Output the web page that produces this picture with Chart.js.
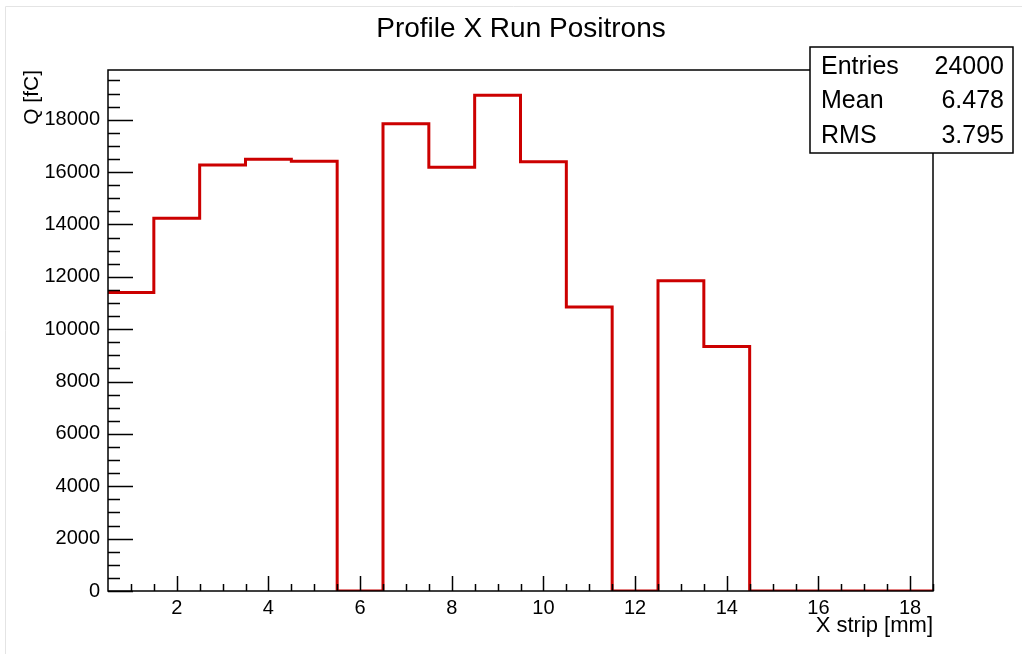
<!DOCTYPE html>
<html>
<head>
<meta charset="utf-8">
<script src="https://cdn.jsdelivr.net/npm/chart.js@4"></script>
<style>
  body { margin: 0; background: #fff; }
  #wrap { position: relative; width: 1022px; height: 654px; }
</style>
</head>
<body>
<div id="wrap"><canvas id="grafica" width="1022" height="654"></canvas></div>
<script>
// bin centres (strip number) and charge per bin
var bins = [1, 2, 3, 4, 5, 6, 7, 8, 9, 10, 11, 12, 13, 14, 15, 16, 17, 18];
var carga = [11400, 14240, 16270, 16490, 16410, 0, 17850, 16190, 18940, 16400, 10850, 0, 11850, 9340, 0, 0, 0, 0];
var xTicks = [2, 4, 6, 8, 10, 12, 14, 16, 18];
var yTicks = [0, 2000, 4000, 6000, 8000, 10000, 12000, 14000, 16000, 18000];
var stats = [["Entries", "24000"], ["Mean", "6.478"], ["RMS", "3.795"]];

// step outline: one point at each bin's low edge, plus the last high edge
var puntos = [];
for (var i = 0; i < bins.length; i++) {
    puntos.push({ x: bins[i] - 0.5, y: carga[i] });
}
puntos.push({ x: bins[bins.length - 1] + 0.5, y: carga[carga.length - 1] });

var fuente = "'Liberation Sans', Arial, sans-serif";

// ROOT-like frame, inward ticks, titles and stats box
var marco = {
    id: "marco",
    afterDatasetsDraw: function (chart) {
        var c = chart.ctx;
        var a = chart.chartArea;
        var sx = chart.scales.x, sy = chart.scales.y;
        c.save();

        // faint canvas edge
        c.strokeStyle = "#e4e4e4";
        c.lineWidth = 1;
        c.beginPath();
        c.moveTo(5.5, 654);
        c.lineTo(5.5, 6.5);
        c.lineTo(1022, 6.5);
        c.stroke();

        c.strokeStyle = "#000";
        c.lineWidth = 1.5;
        c.strokeRect(a.left, a.top, a.right - a.left, a.bottom - a.top);

        c.beginPath();
        for (var v = 0; v <= sy.max; v += 500) {
            var py = Math.round(sy.getPixelForValue(v)) + 0.5;
            var len = (v % 2000 === 0) ? 25 : 12;
            c.moveTo(a.left, py);
            c.lineTo(a.left + len, py);
        }
        for (var xv = 1; xv <= sx.max; xv += 0.5) {
            var px = Math.round(sx.getPixelForValue(xv)) + 0.5;
            var l = (xv % 2 === 0) ? 15 : 7;
            c.moveTo(px, a.bottom);
            c.lineTo(px, a.bottom - l);
        }
        c.stroke();

        // title
        c.fillStyle = "#000";
        c.font = "28px " + fuente;
        c.textAlign = "center";
        c.textBaseline = "middle";
        c.fillText("Profile X Run Positrons", 521, 29);

        // axis titles
        c.font = "22px " + fuente;
        c.textAlign = "right";
        c.fillText("X strip [mm]", a.right, 626);
        c.save();
        c.translate(32, a.top);
        c.rotate(-Math.PI / 2);
        c.font = "21px " + fuente;
        c.textAlign = "right";
        c.fillText("Q [fC]", 0, 0);
        c.restore();

        // stats box
        c.fillStyle = "#fff";
        c.fillRect(810, 47, 203, 106);
        c.lineWidth = 1.5;
        c.strokeRect(810, 47, 203, 106);
        c.fillStyle = "#000";
        c.font = "25px " + fuente;
        for (var k = 0; k < stats.length; k++) {
            var ty = 67 + k * 34.5;
            c.textAlign = "left";
            c.fillText(stats[k][0], 821, ty);
            c.textAlign = "right";
            c.fillText(stats[k][1], 1004, ty);
        }
        c.restore();
    }
};

var miCanvas = document.getElementById("grafica").getContext("2d");
var chart = new Chart(miCanvas, {
    type: "line",
    data: {
        datasets: [{
            label: "Q",
            data: puntos,
            stepped: "before",
            borderColor: "#cc0000",
            borderWidth: 3,
            pointRadius: 0,
            fill: false
        }]
    },
    options: {
        responsive: false,
        animation: false,
        layout: { padding: { left: 0, right: 89, top: 70, bottom: 0 } },
        plugins: { legend: { display: false }, tooltip: { enabled: false } },
        scales: {
            x: {
                type: "linear",
                min: 0.5,
                max: 18.5,
                afterBuildTicks: function (s) { s.ticks = xTicks.map(function (v) { return { value: v }; }); },
                afterFit: function (s) { s.height = 63; },
                grid: { display: false, drawTicks: false },
                border: { display: false },
                ticks: { color: "#000", padding: 5, maxRotation: 0, font: { size: 20, family: fuente },
                    callback: function (v) { return String(v); } }
            },
            y: {
                type: "linear",
                min: 0,
                max: 19900,
                afterBuildTicks: function (s) { s.ticks = yTicks.map(function (v) { return { value: v }; }); },
                afterFit: function (s) { s.width = 108; },
                grid: { display: false, drawTicks: false },
                border: { display: false },
                ticks: { color: "#000", padding: 8, font: { size: 20, family: fuente },
                    callback: function (v) { return String(v); } }
            }
        }
    },
    plugins: [marco]
});
</script>
</body>
</html>
